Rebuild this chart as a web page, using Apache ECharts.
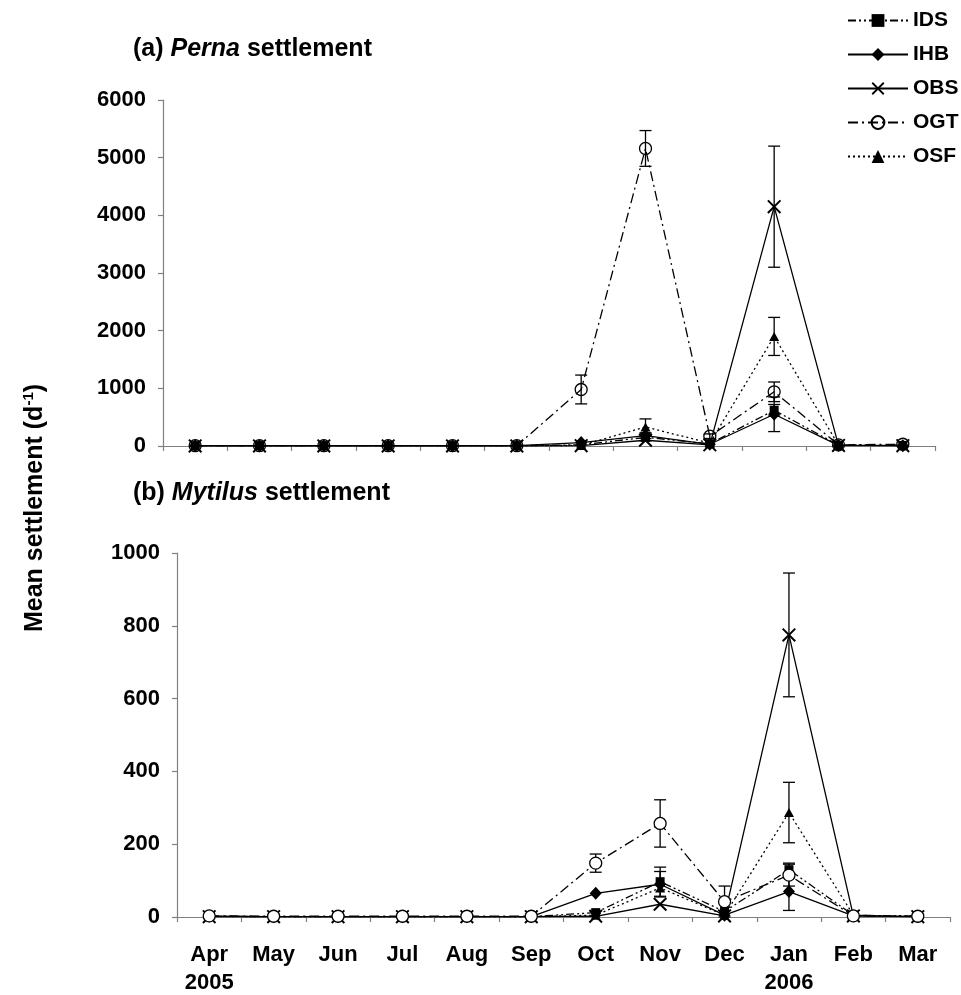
<!DOCTYPE html>
<html>
<head>
<meta charset="utf-8">
<script src="https://cdn.jsdelivr.net/npm/echarts@6/dist/echarts.min.js"></script>
<style>html,body{margin:0;padding:0;background:#fff}#c{width:961px;height:995px}</style>
</head>
<body>
<div id="c"></div>
<script>
const months = ['Apr','May','Jun','Jul','Aug','Sep','Oct','Nov','Dec','Jan','Feb','Mar'];
const yearLabels = {0:'2005', 9:'2006'};
const seriesNames = ['IDS','IHB','OBS','OGT','OSF'];

// (a) Perna settlement
const pernaIDS = [5,5,5,5,5,5,20,150,40,620,15,10];
const pernaIHB = [5,5,5,5,5,5,60,180,30,550,10,5];
const pernaOBS = [2,2,2,2,2,2,5,100,20,4150,10,5];
const pernaOGT = [5,5,5,5,5,5,980,5160,170,940,20,30];
const pernaOSF = [5,5,5,5,5,5,10,330,50,1900,15,10];
// standard errors (0 = no bar drawn)
const pernaIDSerr = [0,0,0,0,0,0,0,60,0,100,0,0];
const pernaIHBerr = [0,0,0,0,0,0,0,50,0,300,0,0];
const pernaOBSerr = [0,0,0,0,0,0,0,0,0,1050,0,0];
const pernaOGTerr = [0,0,0,0,0,0,250,310,40,170,0,0];
const pernaOSFerr = [0,0,0,0,0,0,0,140,0,330,0,0];
const pernaTicks = [0,1000,2000,3000,4000,5000,6000];

// (b) Mytilus settlement
const mytIDS = [2,1,1,1,1,1,12,97,15,130,5,2];
const mytIHB = [2,1,1,1,1,1,65,90,5,70,3,1];
const mytOBS = [1,1,1,1,1,1,2,35,3,775,3,1];
const mytOGT = [3,2,2,2,2,2,148,257,42,115,3,2];
const mytOSF = [2,1,1,1,1,1,5,80,5,287,5,2];
const mytIDSerr = [0,0,0,0,0,0,0,40,0,18,0,0];
const mytIHBerr = [0,0,0,0,0,0,0,35,0,52,0,0];
const mytOBSerr = [0,0,0,0,0,0,0,0,0,170,0,0];
const mytOGTerr = [0,0,0,0,0,0,25,65,43,30,0,0];
const mytOSFerr = [0,0,0,0,0,0,0,0,0,83,0,0];
const mytTicks = [0,200,400,600,800,1000];

const FONT = '"Liberation Sans", Arial, sans-serif';
const LW = 1.3;
const styles = {
  IDS: {type:[8,3,2,3,2,3], symbol:'rect', size:9},
  IHB: {type:'solid', symbol:'diamond', size:[12,13]},
  OBS: {type:'solid', symbol:'path://M0,1 L1,0 L10,9 L9,10 Z M9,0 L10,1 L1,10 L0,9 Z', size:14},
  OGT: {type:[10,4,2,4], symbol:'circle', size:12},
  OSF: {type:[2,3], symbol:'triangle', size:[10,9]}
};

function lineSeries(name, data, g, circleFill) {
  const s = styles[name];
  const isCircle = name === 'OGT';
  return {
    type:'line', name, data, xAxisIndex:g, yAxisIndex:g,
    symbol:s.symbol, symbolSize:s.size, showAllSymbol:true,
    lineStyle:{color:'#000', width:LW, type:s.type},
    itemStyle: isCircle ? {color:circleFill, borderColor:'#000', borderWidth:1.3}
                        : {color:'#000', borderColor:'#000', borderWidth:0},
    z: isCircle ? (circleFill === '#fff' ? 5 : 3) : 3,
    emphasis:{disabled:true}, animation:false
  };
}

function errSeries(vals, errs, g) {
  const d = [];
  errs.forEach((e,i) => { if (e > 0) d.push([i, Math.max(0, vals[i]-e), vals[i]+e]); });
  return {
    type:'custom', xAxisIndex:g, yAxisIndex:g, data:d, z:2, silent:true, animation:false,
    encode:{x:0, y:[1,2]},
    renderItem(params, api) {
      const x = api.value(0);
      const lo = api.coord([x, api.value(1)]);
      const hi = api.coord([x, api.value(2)]);
      const w = 6, st = {stroke:'#000', lineWidth:1.3};
      return {type:'group', children:[
        {type:'line', shape:{x1:lo[0],y1:lo[1],x2:hi[0],y2:hi[1]}, style:st},
        {type:'line', shape:{x1:lo[0]-w,y1:lo[1],x2:lo[0]+w,y2:lo[1]}, style:st},
        {type:'line', shape:{x1:hi[0]-w,y1:hi[1],x2:hi[0]+w,y2:hi[1]}, style:st}
      ]};
    }
  };
}

const axisLineStyle = {color:'#808080', width:1.2};
function xAxis(g, showLabels) {
  return {
    type:'category', gridIndex:g, data:months, boundaryGap:true,
    axisLine:{lineStyle:axisLineStyle},
    axisTick:{show:true, length:5, lineStyle:axisLineStyle},
    axisLabel:{show:showLabels, interval:0, margin:24, color:'#000', fontFamily:FONT, fontWeight:'bold', fontSize:22, lineHeight:28,
      formatter:(v,i) => yearLabels[i] ? v + '\n' + yearLabels[i] : v},
    splitLine:{show:false}
  };
}
function yAxis(g, ticks) {
  return {
    type:'value', gridIndex:g, min:ticks[0], max:ticks[ticks.length-1], interval:ticks[1]-ticks[0],
    axisLine:{show:true, lineStyle:axisLineStyle},
    axisTick:{show:true, length:5, lineStyle:axisLineStyle},
    axisLabel:{margin:17, color:'#000', fontFamily:FONT, fontWeight:'bold', fontSize:22, formatter:v => String(v)},
    splitLine:{show:false}
  };
}

const titleRich = {
  n:{fontSize:25, fontWeight:'bold', fontFamily:FONT, color:'#000'},
  i:{fontSize:25, fontWeight:'bold', fontStyle:'italic', fontFamily:FONT, color:'#000'}
};

const chart = echarts.init(document.getElementById('c'), null, {renderer:'canvas'});
const perna = [pernaIDS,pernaIHB,pernaOBS,pernaOGT,pernaOSF];
const pernaE = [pernaIDSerr,pernaIHBerr,pernaOBSerr,pernaOGTerr,pernaOSFerr];
const myt = [mytIDS,mytIHB,mytOBS,mytOGT,mytOSF];
const mytE = [mytIDSerr,mytIHBerr,mytOBSerr,mytOGTerr,mytOSFerr];

const series = [];
seriesNames.forEach((n,k) => series.push(errSeries(perna[k], pernaE[k], 0)));
seriesNames.forEach((n,k) => series.push(lineSeries(n, perna[k], 0, 'rgba(255,255,255,0)')));
seriesNames.forEach((n,k) => series.push(errSeries(myt[k], mytE[k], 1)));
seriesNames.forEach((n,k) => series.push(lineSeries(n, myt[k], 1, '#fff')));

chart.setOption({
  backgroundColor:'#fff',
  animation:false,
  title:[
    {text:'{n|(a) }{i|Perna}{n| settlement}', left:128, top:32, textStyle:{rich:titleRich}},
    {text:'{n|(b) }{i|Mytilus}{n| settlement}', left:128, top:476, textStyle:{rich:titleRich}}
  ],
  legend:{
    data:seriesNames, orient:'vertical', left:842, top:5, itemWidth:60, itemHeight:16, itemGap:13,
    selectedMode:false,
    textStyle:{fontFamily:FONT, fontWeight:'bold', fontSize:21, color:'#000'}
  },
  grid:[
    {left:163, right:26, top:100, height:346, outerBoundsMode:'none'},
    {left:177, right:11, top:553, height:364, outerBoundsMode:'none'}
  ],
  xAxis:[xAxis(0,false), xAxis(1,true)],
  yAxis:[yAxis(0,pernaTicks), yAxis(1,mytTicks)],
  graphic:[{
    type:'text', x:35, y:508, rotation:Math.PI/2,
    style:{text:'Mean settlement (d{s|-1})', fontFamily:FONT, fontWeight:'bold', fontSize:25, fill:'#000',
      align:'center', verticalAlign:'middle',
      rich:{s:{fontSize:15, fontWeight:'bold', fontFamily:FONT, verticalAlign:'top', padding:[0,0,12,0]}}}
  }],
  series
});
</script>
</body>
</html>
